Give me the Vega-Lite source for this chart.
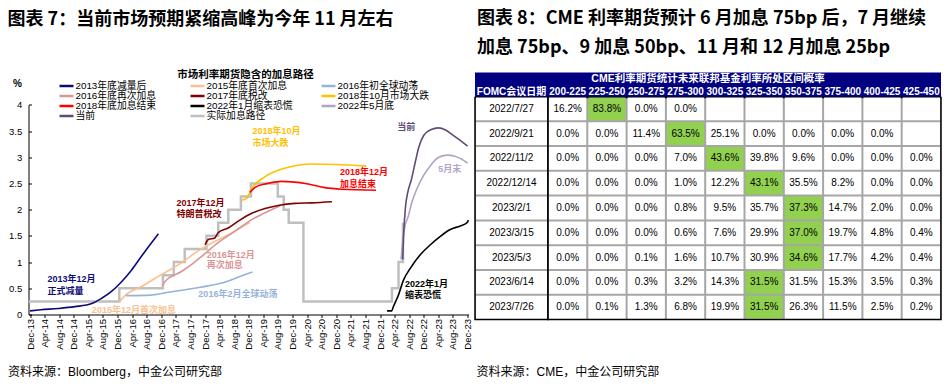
{
"$schema": "https://vega.github.io/schema/vega-lite/v6.json",
"background": "white",
"padding": {"left": 7.5, "top": 9.5, "right": 3, "bottom": 3},
"spacing": 6.5,
"bounds": "flush",
"datasets": {
"lines": [
{"series":"2013年底减量后","date":"2013-12-01","value":0.07},
{"series":"2013年底减量后","date":"2014-03-01","value":0.09},
{"series":"2013年底减量后","date":"2014-07-25","value":0.115},
{"series":"2013年底减量后","date":"2014-12-10","value":0.15},
{"series":"2013年底减量后","date":"2015-05-01","value":0.21},
{"series":"2013年底减量后","date":"2015-07-22","value":0.31},
{"series":"2013年底减量后","date":"2015-10-12","value":0.44},
{"series":"2013年底减量后","date":"2016-01-06","value":0.63},
{"series":"2013年底减量后","date":"2016-03-28","value":0.85},
{"series":"2013年底减量后","date":"2016-06-18","value":1.11},
{"series":"2013年底减量后","date":"2016-08-28","value":1.33},
{"series":"2013年底减量后","date":"2016-11-06","value":1.54},
{"series":"2015年底首次加息","date":"2015-12-16","value":0.24},
{"series":"2015年底首次加息","date":"2016-02-01","value":0.36},
{"series":"2015年底首次加息","date":"2016-06-15","value":0.53},
{"series":"2015年底首次加息","date":"2016-12-01","value":0.76},
{"series":"2015年底首次加息","date":"2017-05-15","value":0.98},
{"series":"2015年底首次加息","date":"2017-08-25","value":1.15},
{"series":"2015年底首次加息","date":"2017-11-15","value":1.27},
{"series":"2015年底首次加息","date":"2018-07-15","value":1.56},
{"series":"2015年底首次加息","date":"2018-12-10","value":1.76},
{"series":"2016年初全球动荡","date":"2016-02-11","value":0.36},
{"series":"2016年初全球动荡","date":"2016-09-01","value":0.37},
{"series":"2016年初全球动荡","date":"2017-01-15","value":0.42},
{"series":"2016年初全球动荡","date":"2017-10-20","value":0.52},
{"series":"2016年初全球动荡","date":"2018-06-01","value":0.63},
{"series":"2016年初全球动荡","date":"2018-09-01","value":0.71},
{"series":"2016年初全球动荡","date":"2019-01-01","value":0.81},
{"series":"2016年底再次加息","date":"2016-12-10","value":0.55},
{"series":"2016年底再次加息","date":"2017-01-01","value":0.63},
{"series":"2016年底再次加息","date":"2017-05-18","value":0.82},
{"series":"2016年底再次加息","date":"2017-08-25","value":0.98},
{"series":"2016年底再次加息","date":"2017-11-03","value":1.11},
{"series":"2016年底再次加息","date":"2018-03-20","value":1.37},
{"series":"2016年底再次加息","date":"2018-08-08","value":1.59},
{"series":"2016年底再次加息","date":"2018-12-25","value":1.81},
{"series":"2016年底再次加息","date":"2019-05-12","value":1.97},
{"series":"2016年底再次加息","date":"2019-08-18","value":2.07},
{"series":"2017年底税改","date":"2017-12-01","value":1.33},
{"series":"2017年底税改","date":"2017-12-28","value":1.43},
{"series":"2017年底税改","date":"2018-02-20","value":1.46},
{"series":"2017年底税改","date":"2018-03-20","value":1.56},
{"series":"2017年底税改","date":"2018-06-12","value":1.65},
{"series":"2017年底税改","date":"2018-09-04","value":1.78},
{"series":"2017年底税改","date":"2018-12-25","value":1.93},
{"series":"2017年底税改","date":"2019-04-15","value":2.02},
{"series":"2017年底税改","date":"2019-08-03","value":2.08},
{"series":"2017年底税改","date":"2019-12-21","value":2.12},
{"series":"2017年底税改","date":"2020-05-10","value":2.13},
{"series":"2017年底税改","date":"2020-10-25","value":2.15},
{"series":"2018年10月市场大跌","date":"2018-10-03","value":2.18},
{"series":"2018年10月市场大跌","date":"2018-11-15","value":2.22},
{"series":"2018年10月市场大跌","date":"2018-12-20","value":2.38},
{"series":"2018年10月市场大跌","date":"2019-04-10","value":2.62},
{"series":"2018年10月市场大跌","date":"2019-08-15","value":2.76},
{"series":"2018年10月市场大跌","date":"2019-11-15","value":2.82},
{"series":"2018年10月市场大跌","date":"2020-05-01","value":2.87},
{"series":"2018年10月市场大跌","date":"2020-12-01","value":2.86},
{"series":"2018年10月市场大跌","date":"2021-08-10","value":2.83},
{"series":"2018年底加息结束","date":"2018-12-10","value":2.33},
{"series":"2018年底加息结束","date":"2019-01-20","value":2.42},
{"series":"2018年底加息结束","date":"2019-04-15","value":2.49},
{"series":"2018年底加息结束","date":"2019-09-01","value":2.54},
{"series":"2018年底加息结束","date":"2019-11-25","value":2.53},
{"series":"2018年底加息结束","date":"2020-04-10","value":2.49},
{"series":"2018年底加息结束","date":"2020-08-28","value":2.42},
{"series":"2018年底加息结束","date":"2021-01-15","value":2.39},
{"series":"2018年底加息结束","date":"2021-10-28","value":2.37},
{"series":"2022年1月缩表恐慌","date":"2022-01-28","value":0.07},
{"series":"2022年1月缩表恐慌","date":"2022-03-08","value":0.07},
{"series":"2022年1月缩表恐慌","date":"2022-03-22","value":0.15},
{"series":"2022年1月缩表恐慌","date":"2022-05-03","value":0.37},
{"series":"2022年1月缩表恐慌","date":"2022-06-15","value":0.66},
{"series":"2022年1月缩表恐慌","date":"2022-08-10","value":0.88},
{"series":"2022年1月缩表恐慌","date":"2022-11-01","value":1.14},
{"series":"2022年1月缩表恐慌","date":"2023-01-25","value":1.33},
{"series":"2022年1月缩表恐慌","date":"2023-04-18","value":1.49},
{"series":"2022年1月缩表恐慌","date":"2023-07-10","value":1.62},
{"series":"2022年1月缩表恐慌","date":"2023-10-01","value":1.69},
{"series":"2022年1月缩表恐慌","date":"2023-11-26","value":1.75},
{"series":"2022年1月缩表恐慌","date":"2023-12-08","value":1.8},
{"series":"2022年5月底","date":"2022-05-25","value":1.05},
{"series":"2022年5月底","date":"2022-06-10","value":1.45},
{"series":"2022年5月底","date":"2022-06-27","value":1.69},
{"series":"2022年5月底","date":"2022-07-25","value":1.88},
{"series":"2022年5月底","date":"2022-08-22","value":2.13},
{"series":"2022年5月底","date":"2022-10-03","value":2.39},
{"series":"2022年5月底","date":"2022-11-28","value":2.65},
{"series":"2022年5月底","date":"2023-01-22","value":2.83},
{"series":"2022年5月底","date":"2023-03-28","value":2.99},
{"series":"2022年5月底","date":"2023-06-13","value":3.04},
{"series":"2022年5月底","date":"2023-08-18","value":3.02},
{"series":"2022年5月底","date":"2023-10-06","value":2.97},
{"series":"2022年5月底","date":"2023-12-01","value":2.89},
{"series":"当前","date":"2022-06-08","value":1.05},
{"series":"当前","date":"2022-06-15","value":1.5},
{"series":"当前","date":"2022-07-01","value":2.05},
{"series":"当前","date":"2022-07-20","value":2.33},
{"series":"当前","date":"2022-08-20","value":2.58},
{"series":"当前","date":"2022-09-20","value":2.9},
{"series":"当前","date":"2022-10-20","value":3.19},
{"series":"当前","date":"2022-12-01","value":3.42},
{"series":"当前","date":"2023-02-01","value":3.53},
{"series":"当前","date":"2023-04-01","value":3.56},
{"series":"当前","date":"2023-06-01","value":3.52},
{"series":"当前","date":"2023-08-01","value":3.42},
{"series":"当前","date":"2023-10-01","value":3.32},
{"series":"当前","date":"2023-12-01","value":3.21},
{"series":"实际加息路径","date":"2013-11-20","value":0.25},
{"series":"实际加息路径","date":"2015-12-16","value":0.5},
{"series":"实际加息路径","date":"2016-12-14","value":0.75},
{"series":"实际加息路径","date":"2017-03-15","value":1.0},
{"series":"实际加息路径","date":"2017-06-14","value":1.25},
{"series":"实际加息路径","date":"2017-12-13","value":1.5},
{"series":"实际加息路径","date":"2018-03-21","value":1.75},
{"series":"实际加息路径","date":"2018-06-13","value":2.0},
{"series":"实际加息路径","date":"2018-09-26","value":2.25},
{"series":"实际加息路径","date":"2018-12-19","value":2.5},
{"series":"实际加息路径","date":"2019-07-31","value":2.25},
{"series":"实际加息路径","date":"2019-09-18","value":2.0},
{"series":"实际加息路径","date":"2019-10-30","value":1.75},
{"series":"实际加息路径","date":"2020-03-01","value":0.25},
{"series":"实际加息路径","date":"2022-03-10","value":0.5},
{"series":"实际加息路径","date":"2022-05-04","value":1.0},
{"series":"实际加息路径","date":"2022-06-10","value":1.75}
],
"labels": [
{"series":"2013年底减量后","date":"2014-04-26","value":0.68,"text":"2013年12月"},
{"series":"2013年底减量后","date":"2014-04-26","value":0.45,"text":"正式减量"},
{"series":"2015年底首次加息","date":"2015-05-01","value":0.09,"text":"2015年12月首次加息"},
{"series":"2016年初全球动荡","date":"2017-10-06","value":0.39,"text":"2016年2月全球动荡"},
{"series":"2016年底再次加息","date":"2017-12-15","value":1.14,"text":"2016年12月"},
{"series":"2016年底再次加息","date":"2017-12-15","value":0.94,"text":"再次加息"},
{"series":"2017年底税改","date":"2017-04-07","value":2.13,"text":"2017年12月"},
{"series":"2017年底税改","date":"2017-04-07","value":1.92,"text":"特朗普税改"},
{"series":"2018年10月市场大跌","date":"2018-12-31","value":3.5,"text":"2018年10月"},
{"series":"2018年10月市场大跌","date":"2018-12-31","value":3.27,"text":"市场大跌"},
{"series":"2018年底加息结束","date":"2021-01-01","value":2.71,"text":"2018年12月"},
{"series":"2018年底加息结束","date":"2021-01-01","value":2.49,"text":"加息结束"},
{"series":"2022年1月缩表恐慌","date":"2022-06-26","value":0.58,"text":"2022年1月"},
{"series":"2022年1月缩表恐慌","date":"2022-06-26","value":0.37,"text":"缩表恐慌"},
{"series":"当前","date":"2022-04-24","value":3.58,"text":"当前"},
{"series":"2022年5月底","date":"2023-03-31","value":2.78,"text":"5月末"}
],
"hdr": [{"h":"CME利率期货统计未来联邦基金利率所处区间概率"}],
"cells": [
{"date":"2022/7/27","range":"200-225","p":0.162},{"date":"2022/7/27","range":"225-250","p":0.838},{"date":"2022/7/27","range":"250-275","p":0.0},{"date":"2022/7/27","range":"275-300","p":0.0},{"date":"2022/7/27","range":"300-325","p":null},{"date":"2022/7/27","range":"325-350","p":null},{"date":"2022/7/27","range":"350-375","p":null},{"date":"2022/7/27","range":"375-400","p":null},{"date":"2022/7/27","range":"400-425","p":null},{"date":"2022/7/27","range":"425-450","p":null},
{"date":"2022/9/21","range":"200-225","p":0.0},{"date":"2022/9/21","range":"225-250","p":0.0},{"date":"2022/9/21","range":"250-275","p":0.114},{"date":"2022/9/21","range":"275-300","p":0.635},{"date":"2022/9/21","range":"300-325","p":0.251},{"date":"2022/9/21","range":"325-350","p":0.0},{"date":"2022/9/21","range":"350-375","p":0.0},{"date":"2022/9/21","range":"375-400","p":0.0},{"date":"2022/9/21","range":"400-425","p":0.0},{"date":"2022/9/21","range":"425-450","p":null},
{"date":"2022/11/2","range":"200-225","p":0.0},{"date":"2022/11/2","range":"225-250","p":0.0},{"date":"2022/11/2","range":"250-275","p":0.0},{"date":"2022/11/2","range":"275-300","p":0.07},{"date":"2022/11/2","range":"300-325","p":0.436},{"date":"2022/11/2","range":"325-350","p":0.398},{"date":"2022/11/2","range":"350-375","p":0.096},{"date":"2022/11/2","range":"375-400","p":0.0},{"date":"2022/11/2","range":"400-425","p":0.0},{"date":"2022/11/2","range":"425-450","p":0.0},
{"date":"2022/12/14","range":"200-225","p":0.0},{"date":"2022/12/14","range":"225-250","p":0.0},{"date":"2022/12/14","range":"250-275","p":0.0},{"date":"2022/12/14","range":"275-300","p":0.01},{"date":"2022/12/14","range":"300-325","p":0.122},{"date":"2022/12/14","range":"325-350","p":0.431},{"date":"2022/12/14","range":"350-375","p":0.355},{"date":"2022/12/14","range":"375-400","p":0.082},{"date":"2022/12/14","range":"400-425","p":0.0},{"date":"2022/12/14","range":"425-450","p":0.0},
{"date":"2023/2/1","range":"200-225","p":0.0},{"date":"2023/2/1","range":"225-250","p":0.0},{"date":"2023/2/1","range":"250-275","p":0.0},{"date":"2023/2/1","range":"275-300","p":0.008},{"date":"2023/2/1","range":"300-325","p":0.095},{"date":"2023/2/1","range":"325-350","p":0.357},{"date":"2023/2/1","range":"350-375","p":0.373},{"date":"2023/2/1","range":"375-400","p":0.147},{"date":"2023/2/1","range":"400-425","p":0.02},{"date":"2023/2/1","range":"425-450","p":0.0},
{"date":"2023/3/15","range":"200-225","p":0.0},{"date":"2023/3/15","range":"225-250","p":0.0},{"date":"2023/3/15","range":"250-275","p":0.0},{"date":"2023/3/15","range":"275-300","p":0.006},{"date":"2023/3/15","range":"300-325","p":0.076},{"date":"2023/3/15","range":"325-350","p":0.299},{"date":"2023/3/15","range":"350-375","p":0.37},{"date":"2023/3/15","range":"375-400","p":0.197},{"date":"2023/3/15","range":"400-425","p":0.048},{"date":"2023/3/15","range":"425-450","p":0.004},
{"date":"2023/5/3","range":"200-225","p":0.0},{"date":"2023/5/3","range":"225-250","p":0.0},{"date":"2023/5/3","range":"250-275","p":0.001},{"date":"2023/5/3","range":"275-300","p":0.016},{"date":"2023/5/3","range":"300-325","p":0.107},{"date":"2023/5/3","range":"325-350","p":0.309},{"date":"2023/5/3","range":"350-375","p":0.346},{"date":"2023/5/3","range":"375-400","p":0.177},{"date":"2023/5/3","range":"400-425","p":0.042},{"date":"2023/5/3","range":"425-450","p":0.004},
{"date":"2023/6/14","range":"200-225","p":0.0},{"date":"2023/6/14","range":"225-250","p":0.0},{"date":"2023/6/14","range":"250-275","p":0.003},{"date":"2023/6/14","range":"275-300","p":0.032},{"date":"2023/6/14","range":"300-325","p":0.143},{"date":"2023/6/14","range":"325-350","p":0.315},{"date":"2023/6/14","range":"350-375","p":0.315},{"date":"2023/6/14","range":"375-400","p":0.153},{"date":"2023/6/14","range":"400-425","p":0.035},{"date":"2023/6/14","range":"425-450","p":0.003},
{"date":"2023/7/26","range":"200-225","p":0.0},{"date":"2023/7/26","range":"225-250","p":0.001},{"date":"2023/7/26","range":"250-275","p":0.013},{"date":"2023/7/26","range":"275-300","p":0.068},{"date":"2023/7/26","range":"300-325","p":0.199},{"date":"2023/7/26","range":"325-350","p":0.315},{"date":"2023/7/26","range":"350-375","p":0.263},{"date":"2023/7/26","range":"375-400","p":0.115},{"date":"2023/7/26","range":"400-425","p":0.025},{"date":"2023/7/26","range":"425-450","p":0.002}
]
},
"hconcat": [
{
"width": 440,
"height": 242,
"title": {"text": "图表 7：当前市场预期紧缩高峰为今年 11 月左右", "anchor": "start", "frame": "group", "dx": -21, "offset": 25.5, "fontSize": 18, "fontWeight": "bold", "font": "Noto Sans CJK SC", "color": "#000", "baseline": "bottom"},
"encoding": {
"x": {"field": "date", "type": "temporal",
 "scale": {"type": "utc", "domain": [{"year": 2013, "month": 11, "date": 18, "utc": true}, {"year": 2023, "month": 12, "date": 9, "utc": true}]},
 "axis": {
  "values": [
   {"year":2013,"month":12,"date":1,"utc":true},
   {"year":2014,"month":4,"date":1,"utc":true},{"year":2014,"month":8,"date":1,"utc":true},{"year":2014,"month":12,"date":1,"utc":true},
   {"year":2015,"month":4,"date":1,"utc":true},{"year":2015,"month":8,"date":1,"utc":true},{"year":2015,"month":12,"date":1,"utc":true},
   {"year":2016,"month":4,"date":1,"utc":true},{"year":2016,"month":8,"date":1,"utc":true},{"year":2016,"month":12,"date":1,"utc":true},
   {"year":2017,"month":4,"date":1,"utc":true},{"year":2017,"month":8,"date":1,"utc":true},{"year":2017,"month":12,"date":1,"utc":true},
   {"year":2018,"month":4,"date":1,"utc":true},{"year":2018,"month":8,"date":1,"utc":true},{"year":2018,"month":12,"date":1,"utc":true},
   {"year":2019,"month":4,"date":1,"utc":true},{"year":2019,"month":8,"date":1,"utc":true},{"year":2019,"month":12,"date":1,"utc":true},
   {"year":2020,"month":4,"date":1,"utc":true},{"year":2020,"month":8,"date":1,"utc":true},{"year":2020,"month":12,"date":1,"utc":true},
   {"year":2021,"month":4,"date":1,"utc":true},{"year":2021,"month":8,"date":1,"utc":true},{"year":2021,"month":12,"date":1,"utc":true},
   {"year":2022,"month":4,"date":1,"utc":true},{"year":2022,"month":8,"date":1,"utc":true},{"year":2022,"month":12,"date":1,"utc":true},
   {"year":2023,"month":4,"date":1,"utc":true},{"year":2023,"month":8,"date":1,"utc":true},{"year":2023,"month":12,"date":1,"utc":true}
  ],
  "format": "%b-%y", "labelAngle": 270, "labelAlign": "right", "labelBaseline": "middle",
  "labelFontSize": 9.5, "labelPadding": 1, "labelFlush": false, "labelOverlap": false, "labelSeparation": 0, "labelBound": false,
  "tickSize": 3, "ticks": true, "domain": true, "grid": false,
  "title": "资料来源：Bloomberg，中金公司研究部", "titleX": -21, "titleY": 56.7, "titleAngle": 0,
  "titleAlign": "left", "titleBaseline": "middle", "titleFontSize": 12, "titleFontWeight": "normal"
 }
},
"y": {"field": "value", "type": "quantitative",
 "scale": {"domain": [0, 4], "range": [242, 32.3], "nice": false, "zero": false},
 "axis": {"values": [0, 0.5, 1, 1.5, 2, 2.5, 3, 3.5, 4], "format": "~g", "tickSize": -3, "labelPadding": 9.8, "labelFontSize": 9.5, "grid": false, "labelOverlap": false,
  "title": "%", "titleAngle": 0, "titleX": -11.5, "titleY": 11.4, "titleAlign": "center", "titleBaseline": "middle", "titleFontSize": 10, "titleFontWeight": "bold"}
}
},
"layer": [
{
"data": {"name": "lines"},
"transform": [{"filter": "datum.series === '实际加息路径'"}],
"mark": {"type": "line", "interpolate": "step-after", "strokeWidth": 2.5},
"encoding": {
"color": {"field": "series", "type": "nominal",
 "scale": {"domain": ["2013年底减量后","2015年底首次加息","2016年初全球动荡","2016年底再次加息","2017年底税改","2018年10月市场大跌","2018年底加息结束","2022年1月缩表恐慌","2022年5月底","当前","实际加息路径"],
  "range": ["#0C0C78","#FAC090","#95B3D7","#D99694","#7F0000","#FFC000","#FF0000","#000000","#B3A2C7","#604A7B","#BFBFBF"]},
 "legend": {"orient": "none", "legendX": 33, "legendY": -3, "direction": "horizontal", "columns": 3, "gridAlign": "all", "columnPadding": 18, "rowPadding": 0,
  "title": "市场利率期货隐含的加息路径", "titleAnchor": "middle", "titleFontSize": 10.5, "titleFontWeight": "bold", "titlePadding": 1, "titleColor": "#000",
  "labelFontSize": 9.8, "labelColor": "#000", "labelOffset": 4, "labelLimit": 200,
  "symbolType": "M-2,0L2,0", "symbolSize": 49, "symbolStrokeWidth": 2.5, "padding": 0}
}
}
},
{
"data": {"name": "lines"},
"transform": [{"filter": "datum.series !== '实际加息路径'"}],
"mark": {"type": "line", "interpolate": "monotone", "strokeWidth": 1.6},
"encoding": {
"color": {"field": "series", "type": "nominal",
 "scale": {"domain": ["2013年底减量后","2015年底首次加息","2016年初全球动荡","2016年底再次加息","2017年底税改","2018年10月市场大跌","2018年底加息结束","2022年1月缩表恐慌","2022年5月底","当前","实际加息路径"],
  "range": ["#0C0C78","#FAC090","#95B3D7","#D99694","#7F0000","#FFC000","#FF0000","#000000","#B3A2C7","#604A7B","#BFBFBF"]}}
}
},
{
"data": {"name": "labels"},
"mark": {"type": "text", "align": "left", "baseline": "middle", "fontSize": 9, "fontWeight": "bold"},
"encoding": {
"text": {"field": "text"},
"fill": {"field": "series", "type": "nominal", "legend": null,
 "scale": {"domain": ["2013年底减量后","2015年底首次加息","2016年初全球动荡","2016年底再次加息","2017年底税改","2018年10月市场大跌","2018年底加息结束","2022年1月缩表恐慌","2022年5月底","当前","实际加息路径"],
  "range": ["#0C0C78","#FAC090","#95B3D7","#D99694","#7F0000","#FFC000","#FF0000","#000000","#B3A2C7","#604A7B","#BFBFBF"]}}
}
}
]
},
{
"title": {"text": ["图表 8：CME 利率期货预计 6 月加息 75bp 后，7 月继续", "加息 75bp、9 加息 50bp、11 月和 12 月加息 25bp"], "anchor": "start", "frame": "group", "dx": 2, "offset": -2.5, "fontSize": 18, "fontWeight": "bold", "font": "Noto Sans CJK SC", "lineHeight": 29, "color": "#000", "baseline": "bottom"},
"spacing": 0,
"bounds": "flush",
"vconcat": [
{
"width": 466,
"height": 25,
"view": {"fill": "#000080", "stroke": null},
"data": {"name": "hdr"},
"mark": {"type": "text", "color": "white", "fontSize": 10.5, "fontWeight": "bold"},
"encoding": {
"x": {"field": "h", "type": "nominal", "axis": null},
"y": {"field": "h", "type": "nominal", "axis": null, "scale": {"type": "band", "paddingInner": 0, "paddingOuter": 0.5, "align": 0, "round": false}},
"text": {"field": "h"}
}
},
{
"spacing": 0,
"bounds": "flush",
"hconcat": [
{
"width": 73,
"height": 222,
"view": {"fill": "#A6A6A6", "stroke": "#000000", "strokeWidth": 1.5},
"data": {"name": "cells"},
"transform": [{"aggregate": [{"op": "count", "as": "n"}], "groupby": ["date"]}],
"encoding": {
"x": {"datum": "FOMC会议日期", "type": "nominal",
 "scale": {"paddingInner": 0, "paddingOuter": 0.0141, "align": 0.5, "round": false},
 "axis": {"orient": "top", "title": null, "domain": false, "ticks": false, "labelColor": "white", "labelFontWeight": "bold", "labelFontSize": 10, "labelPadding": 6.5, "labelBaseline": "middle", "labelAngle": 0, "labelOverlap": false, "labelLimit": 0}},
"y": {"field": "date", "type": "nominal",
 "scale": {"domain": ["2022/7/27","2022/9/21","2022/11/2","2022/12/14","2023/2/1","2023/3/15","2023/5/3","2023/6/14","2023/7/26"], "paddingInner": 0.0813, "paddingOuter": 0.0203, "align": 0, "round": false},
 "axis": {"labels": false, "ticks": false, "domain": false, "grid": false, "title": "资料来源：CME，中金公司研究部", "titleAngle": 0, "titleX": 1, "titleY": 273.7, "titleAlign": "left", "titleBaseline": "middle", "titleFontSize": 12, "titleFontWeight": "normal"}}
},
"layer": [
{"mark": {"type": "rect", "fill": "white"}},
{"mark": {"type": "text", "fontSize": 10, "color": "#000"}, "encoding": {"text": {"field": "date"}}}
]
},
{
"width": 393,
"height": 222,
"view": {"fill": "#A6A6A6", "stroke": "#000000", "strokeWidth": 1.5},
"data": {"name": "cells"},
"transform": [{"joinaggregate": [{"op": "argmax", "field": "p", "as": "best"}], "groupby": ["date"]}],
"encoding": {
"x": {"field": "range", "type": "nominal",
 "scale": {"domain": ["200-225","225-250","250-275","275-300","300-325","325-350","350-375","375-400","400-425","425-450"], "paddingInner": 0.051, "paddingOuter": 0.0255, "align": 0.5, "round": false},
 "axis": {"orient": "top", "title": null, "domain": false, "ticks": false, "labelColor": "white", "labelFontWeight": "bold", "labelFontSize": 10, "labelPadding": 6.5, "labelBaseline": "middle", "labelAngle": 0, "labelOverlap": false, "labelLimit": 0}},
"y": {"field": "date", "type": "nominal",
 "scale": {"domain": ["2022/7/27","2022/9/21","2022/11/2","2022/12/14","2023/2/1","2023/3/15","2023/5/3","2023/6/14","2023/7/26"], "paddingInner": 0.0813, "paddingOuter": 0.0203, "align": 0, "round": false},
 "axis": null}
},
"layer": [
{"mark": {"type": "rect"}, "encoding": {"fill": {"condition": {"test": "datum.best && datum.best.range === datum.range", "value": "#92D050"}, "value": "white"}}},
{"transform": [{"filter": "datum.p !== null"}], "mark": {"type": "text", "fontSize": 10, "color": "#000"}, "encoding": {"text": {"field": "p", "type": "quantitative", "format": ".1%"}}}
]
}
]
}
]
}
],
"config": {
"view": {"stroke": null},
"font": "Liberation Sans, Noto Sans CJK SC",
"axis": {"labelColor": "#000", "titleColor": "#000", "domainColor": "#000", "tickColor": "#000", "grid": false, "labelFont": "Liberation Sans, Noto Sans CJK SC", "titleFont": "Liberation Sans, Noto Sans CJK SC"},
"axisX": {"labelOverlap": false},
"legend": {"labelFont": "Liberation Sans, Noto Sans CJK SC", "titleFont": "Liberation Sans, Noto Sans CJK SC"},
"text": {"font": "Liberation Sans, Noto Sans CJK SC"}
}
}
